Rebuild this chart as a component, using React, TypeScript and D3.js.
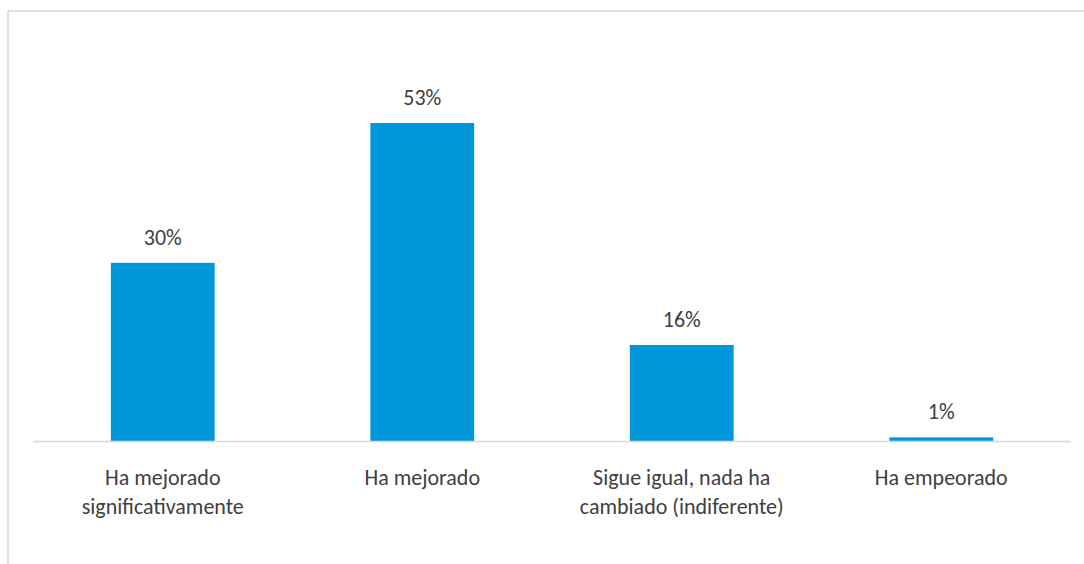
import React from "react";
import * as d3 from "d3";

const categories = [
  "Ha mejorado\nsignificativamente",
  "Ha mejorado",
  "Sigue igual, nada ha\ncambiado (indiferente)",
  "Ha empeorado",
];
const values = [29.7, 53, 16, 0.6];
const valueLabels = ["30%", "53%", "16%", "1%"];

const W = 1084;
const H = 564;
const FONT = "Carlito, Calibri, Lato, 'Open Sans', sans-serif";

export default function App() {
  const x = d3
    .scaleBand<string>()
    .domain(categories)
    .range([33, 1071])
    .paddingInner(0.6)
    .paddingOuter(0.3);
  const y = d3.scaleLinear().domain([0, 53]).range([441, 123]);

  return (
    <svg
      width={W}
      height={H}
      style={{ position: "absolute", left: 0, top: 0, background: "#fff" }}
    >
      <rect x={8} y={11} width={1200} height={700} fill="#fff" stroke="#d9d9d9" strokeWidth={1.6} />
      {categories.map((c, i) => (
        <rect
          key={c}
          x={x(c)}
          y={y(values[i])}
          width={x.bandwidth()}
          height={y(0) - y(values[i])}
          fill="#0097DA"
        />
      ))}
      <line x1={33} x2={1071} y1={y(0) + 0.5} y2={y(0) + 0.5} stroke="#d9d9d9" strokeWidth={1.5} />
      {categories.map((c, i) => (
        <text
          key={"v" + i}
          x={(x(c) as number) + x.bandwidth() / 2}
          y={y(values[i]) - 18}
          textAnchor="middle"
          fontFamily={FONT}
          fontSize={22}
          fill="#404040"
        >
          {valueLabels[i]}
        </text>
      ))}
      {categories.map((c, i) => (
        <text
          key={"c" + i}
          x={(x(c) as number) + x.bandwidth() / 2}
          y={485}
          textAnchor="middle"
          fontFamily={FONT}
          fontSize={22}
          fill="#404040"
        >
          {c.split("\n").map((line, j) => (
            <tspan key={j} x={(x(c) as number) + x.bandwidth() / 2} dy={j === 0 ? 0 : 29}>
              {line}
            </tspan>
          ))}
        </text>
      ))}
    </svg>
  );
}
